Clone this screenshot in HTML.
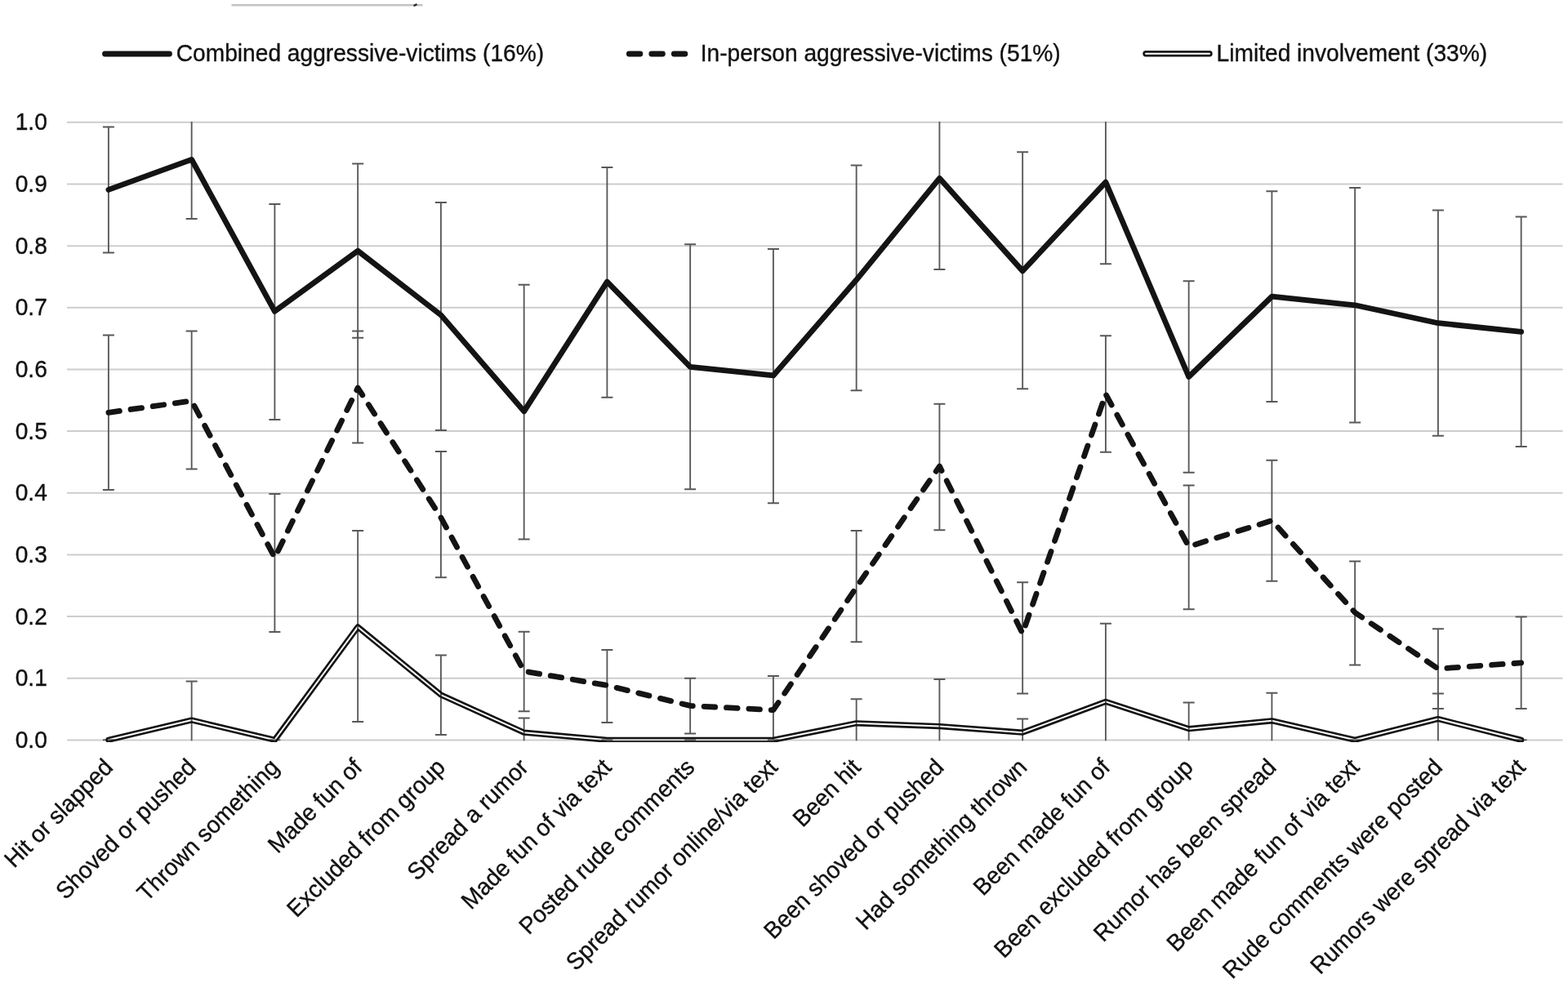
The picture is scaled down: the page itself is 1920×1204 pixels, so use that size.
<!DOCTYPE html>
<html lang="en">
<head>
<meta charset="utf-8">
<title>Chart</title>
<style>
html,body{margin:0;padding:0;background:#fff;}
body{width:1920px;height:1204px;overflow:hidden;}
svg{display:block;}
text{font-family:"Liberation Sans",Arial,Helvetica,sans-serif;fill:#111;stroke:#111;stroke-width:0.35px;}
</style>
</head>
<body>
<svg width="1920" height="1204" viewBox="0 0 1920 1204">
<rect x="0" y="0" width="1920" height="1204" fill="#ffffff"/>
<defs>
<clipPath id="plot"><rect x="70" y="149" width="1850" height="759.9"/></clipPath>
<mask id="gap" maskUnits="userSpaceOnUse" x="0" y="0" width="1920" height="1204"><rect x="0" y="0" width="1920" height="1204" fill="#fff"/><polyline points="132.90,906.25 234.65,882.06 336.40,906.25 438.15,767.90 539.90,851.06 641.65,897.18 743.40,906.25 845.15,906.25 946.90,906.25 1048.65,885.84 1150.40,889.62 1252.15,897.18 1353.90,859.38 1455.65,892.64 1557.40,882.81 1659.15,906.25 1760.90,880.55 1862.65,906.25" fill="none" stroke="#000" stroke-width="2" stroke-linejoin="round" stroke-linecap="round"/></mask>
</defs>
<line x1="283.5" y1="6.25" x2="517.5" y2="6.25" stroke="#c2c2c2" stroke-width="2.4"/>
<line x1="507.4" y1="6.7" x2="509.6" y2="5.6" stroke="#2a2a2a" stroke-width="2.4" stroke-linecap="round"/>
<g stroke="#cdcdcd" stroke-width="2" fill="none">
<line x1="82" y1="906.45" x2="1913.5" y2="906.45"/>
<line x1="82" y1="830.79" x2="1913.5" y2="830.79"/>
<line x1="82" y1="755.12" x2="1913.5" y2="755.12"/>
<line x1="82" y1="679.46" x2="1913.5" y2="679.46"/>
<line x1="82" y1="603.79" x2="1913.5" y2="603.79"/>
<line x1="82" y1="528.12" x2="1913.5" y2="528.12"/>
<line x1="82" y1="452.46" x2="1913.5" y2="452.46"/>
<line x1="82" y1="376.80" x2="1913.5" y2="376.80"/>
<line x1="82" y1="301.13" x2="1913.5" y2="301.13"/>
<line x1="82" y1="225.47" x2="1913.5" y2="225.47"/>
<line x1="82" y1="149.80" x2="1913.5" y2="149.80"/>
</g>
<g font-size="28.15" text-anchor="end">
<text transform="translate(57.8 916.05) scale(1 1.03)">0.0</text>
<text transform="translate(57.8 840.39) scale(1 1.03)">0.1</text>
<text transform="translate(57.8 764.72) scale(1 1.03)">0.2</text>
<text transform="translate(57.8 689.06) scale(1 1.03)">0.3</text>
<text transform="translate(57.8 613.39) scale(1 1.03)">0.4</text>
<text transform="translate(57.8 537.73) scale(1 1.03)">0.5</text>
<text transform="translate(57.8 462.06) scale(1 1.03)">0.6</text>
<text transform="translate(57.8 386.40) scale(1 1.03)">0.7</text>
<text transform="translate(57.8 310.73) scale(1 1.03)">0.8</text>
<text transform="translate(57.8 235.07) scale(1 1.03)">0.9</text>
<text transform="translate(57.8 159.40) scale(1 1.03)">1.0</text>
</g>
<g clip-path="url(#plot)" stroke="#585858" stroke-width="1.85" fill="none">
<path d="M125.90 155.50H139.90M132.90 155.50V309.50M125.90 309.50H139.90"/>
<path d="M227.65 140.00H241.65M234.65 140.00V268.00M227.65 268.00H241.65"/>
<path d="M329.40 250.00H343.40M336.40 250.00V514.00M329.40 514.00H343.40"/>
<path d="M431.15 200.50H445.15M438.15 200.50V413.75M431.15 413.75H445.15"/>
<path d="M532.90 248.00H546.90M539.90 248.00V527.00M532.90 527.00H546.90"/>
<path d="M634.65 348.75H648.65M641.65 348.75V660.50M634.65 660.50H648.65"/>
<path d="M736.40 205.00H750.40M743.40 205.00V486.75M736.40 486.75H750.40"/>
<path d="M838.15 299.25H852.15M845.15 299.25V599.25M838.15 599.25H852.15"/>
<path d="M939.90 305.00H953.90M946.90 305.00V616.25M939.90 616.25H953.90"/>
<path d="M1041.65 202.50H1055.65M1048.65 202.50V478.25M1041.65 478.25H1055.65"/>
<path d="M1143.40 140.00H1157.40M1150.40 140.00V330.00M1143.40 330.00H1157.40"/>
<path d="M1245.15 186.25H1259.15M1252.15 186.25V476.25M1245.15 476.25H1259.15"/>
<path d="M1346.90 140.00H1360.90M1353.90 140.00V323.25M1346.90 323.25H1360.90"/>
<path d="M1448.65 344.25H1462.65M1455.65 344.25V578.75M1448.65 578.75H1462.65"/>
<path d="M1550.40 234.25H1564.40M1557.40 234.25V492.00M1550.40 492.00H1564.40"/>
<path d="M1652.15 230.00H1666.15M1659.15 230.00V517.50M1652.15 517.50H1666.15"/>
<path d="M1753.90 257.50H1767.90M1760.90 257.50V533.75M1753.90 533.75H1767.90"/>
<path d="M1855.65 265.50H1869.65M1862.65 265.50V547.00M1855.65 547.00H1869.65"/>
<path d="M125.90 410.50H139.90M132.90 410.50V600.00M125.90 600.00H139.90"/>
<path d="M227.65 405.50H241.65M234.65 405.50V574.50M227.65 574.50H241.65"/>
<path d="M329.40 605.00H343.40M336.40 605.00V774.00M329.40 774.00H343.40"/>
<path d="M431.15 405.50H445.15M438.15 405.50V542.50M431.15 542.50H445.15"/>
<path d="M532.90 553.00H546.90M539.90 553.00V707.25M532.90 707.25H546.90"/>
<path d="M634.65 773.75H648.65M641.65 773.75V871.25M634.65 871.25H648.65"/>
<path d="M736.40 796.00H750.40M743.40 796.00V885.00M736.40 885.00H750.40"/>
<path d="M838.15 830.75H852.15M845.15 830.75V898.50M838.15 898.50H852.15"/>
<path d="M939.90 828.00H953.90M946.90 828.00V907.3"/>
<path d="M1041.65 650.00H1055.65M1048.65 650.00V786.25M1041.65 786.25H1055.65"/>
<path d="M1143.40 494.75H1157.40M1150.40 494.75V649.25M1143.40 649.25H1157.40"/>
<path d="M1245.15 713.25H1259.15M1252.15 713.25V849.50M1245.15 849.50H1259.15"/>
<path d="M1346.90 411.25H1360.90M1353.90 411.25V553.75M1346.90 553.75H1360.90"/>
<path d="M1448.65 594.50H1462.65M1455.65 594.50V746.25M1448.65 746.25H1462.65"/>
<path d="M1550.40 563.75H1564.40M1557.40 563.75V711.75M1550.40 711.75H1564.40"/>
<path d="M1652.15 687.50H1666.15M1659.15 687.50V814.50M1652.15 814.50H1666.15"/>
<path d="M1753.90 770.25H1767.90M1760.90 770.25V868.00M1753.90 868.00H1767.90"/>
<path d="M1855.65 755.50H1869.65M1862.65 755.50V868.00M1855.65 868.00H1869.65"/>
<path d="M125.90 906.3H139.90"/>
<path d="M227.65 834.50H241.65M234.65 834.50V907.3"/>
<path d="M329.40 906.3H343.40"/>
<path d="M431.15 650.00H445.15M438.15 650.00V884.00M431.15 884.00H445.15"/>
<path d="M532.90 802.50H546.90M539.90 802.50V900.00M532.90 900.00H546.90"/>
<path d="M634.65 879.50H648.65M641.65 879.50V907.3"/>
<path d="M736.40 906.3H750.40"/>
<path d="M838.15 906.3H852.15"/>
<path d="M939.90 906.3H953.90"/>
<path d="M1041.65 856.25H1055.65M1048.65 856.25V907.3"/>
<path d="M1143.40 832.00H1157.40M1150.40 832.00V907.3"/>
<path d="M1245.15 880.50H1259.15M1252.15 880.50V907.3"/>
<path d="M1346.90 763.75H1360.90M1353.90 763.75V907.3"/>
<path d="M1448.65 860.50H1462.65M1455.65 860.50V907.3"/>
<path d="M1550.40 848.75H1564.40M1557.40 848.75V907.3"/>
<path d="M1652.15 906.3H1666.15"/>
<path d="M1753.90 849.50H1767.90M1760.90 849.50V907.3"/>
<path d="M1855.65 906.3H1869.65"/>
</g>
<g clip-path="url(#plot)" fill="none" stroke-linejoin="round" stroke-linecap="round">
<polyline points="132.90,906.25 234.65,882.06 336.40,906.25 438.15,767.90 539.90,851.06 641.65,897.18 743.40,906.25 845.15,906.25 946.90,906.25 1048.65,885.84 1150.40,889.62 1252.15,897.18 1353.90,859.38 1455.65,892.64 1557.40,882.81 1659.15,906.25 1760.90,880.55 1862.65,906.25" stroke="#141414" stroke-width="7.2" mask="url(#gap)"/>
<polyline points="132.90,505.32 234.65,490.96 336.40,682.98 438.15,475.08 539.90,633.84 641.65,822.08 743.40,839.47 845.15,864.42 946.90,869.71 1048.65,719.27 1150.40,571.09 1252.15,775.97 1353.90,482.64 1455.65,669.37 1557.40,637.62 1659.15,750.26 1760.90,819.06 1862.65,811.88" stroke="#141414" stroke-width="6.8" stroke-dasharray="13.6 13.82"/>
<polyline points="132.90,232.40 234.65,195.36 336.40,381.34 438.15,307.25 539.90,385.87 641.65,503.81 743.40,345.05 845.15,449.38 946.90,459.96 1048.65,342.78 1150.40,218.34 1252.15,331.89 1353.90,223.11 1455.65,461.47 1557.40,363.19 1659.15,373.78 1760.90,395.70 1862.65,406.28" stroke="#141414" stroke-width="6.8"/>
</g>
<g fill="none" stroke-linecap="round">
<line x1="128.5" y1="66" x2="207.5" y2="66" stroke="#141414" stroke-width="6.8"/>
<line x1="770.3" y1="66" x2="840" y2="66" stroke="#141414" stroke-width="6.8" stroke-dasharray="13.6 13.9"/>
<line x1="1403" y1="65.8" x2="1481" y2="65.8" stroke="#141414" stroke-width="7.4"/>
<line x1="1403" y1="65.8" x2="1481" y2="65.8" stroke="#ffffff" stroke-width="2"/>
</g>
<g font-size="28.15">
<text transform="translate(215.8 74.8) scale(1 1.03)">Combined aggressive-victims (16%)</text>
<text transform="translate(857.7 74.8) scale(1 1.03)">In-person aggressive-victims (51%)</text>
<text transform="translate(1489.6 74.8) scale(1 1.03)">Limited involvement (33%)</text>
</g>
<g font-size="28.15" text-anchor="end">
<text transform="translate(139.90 941.50) rotate(-45) scale(1 1.03)">Hit or slapped</text>
<text transform="translate(241.65 941.50) rotate(-45) scale(1 1.03)">Shoved or pushed</text>
<text transform="translate(343.40 941.50) rotate(-45) scale(1 1.03)">Thrown something</text>
<text transform="translate(445.15 941.50) rotate(-45) scale(1 1.03)">Made fun of</text>
<text transform="translate(546.90 941.50) rotate(-45) scale(1 1.03)">Excluded from group</text>
<text transform="translate(648.65 941.50) rotate(-45) scale(1 1.03)">Spread a rumor</text>
<text transform="translate(750.40 941.50) rotate(-45) scale(1 1.03)">Made fun of via text</text>
<text transform="translate(852.15 941.50) rotate(-45) scale(1 1.03)">Posted rude comments</text>
<text transform="translate(953.90 941.50) rotate(-45) scale(1 1.03)">Spread rumor online/via text</text>
<text transform="translate(1055.65 941.50) rotate(-45) scale(1 1.03)">Been hit</text>
<text transform="translate(1157.40 941.50) rotate(-45) scale(1 1.03)">Been shoved or pushed</text>
<text transform="translate(1259.15 941.50) rotate(-45) scale(1 1.03)">Had something thrown</text>
<text transform="translate(1360.90 941.50) rotate(-45) scale(1 1.03)">Been made fun of</text>
<text transform="translate(1462.65 941.50) rotate(-45) scale(1 1.03)">Been excluded from group</text>
<text transform="translate(1564.40 941.50) rotate(-45) scale(1 1.03)">Rumor has been spread</text>
<text transform="translate(1666.15 941.50) rotate(-45) scale(1 1.03)">Been made fun of via text</text>
<text transform="translate(1767.90 941.50) rotate(-45) scale(1 1.03)">Rude comments were posted</text>
<text transform="translate(1869.65 941.50) rotate(-45) scale(1 1.03)">Rumors were spread via text</text>
</g>
</svg>
</body>
</html>
